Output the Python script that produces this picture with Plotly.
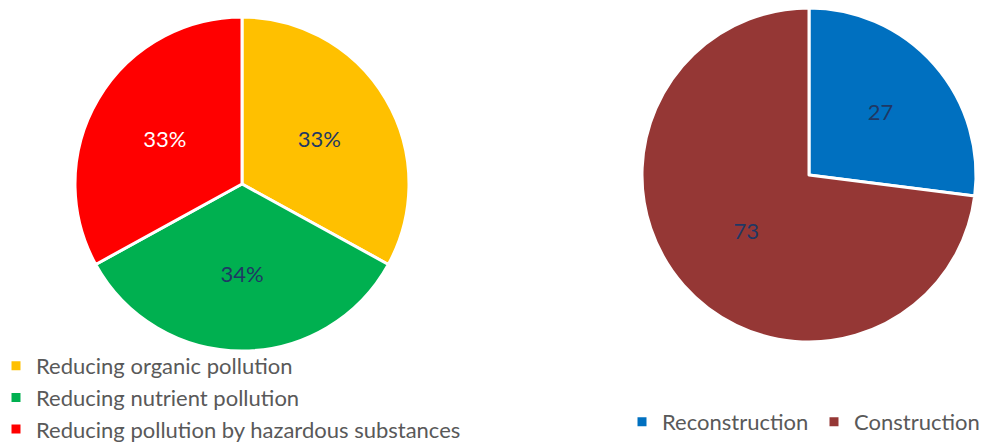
import plotly.graph_objects as go

# Data
left_labels = ["Reducing organic pollution", "Reducing nutrient pollution", "Reducing pollution by hazardous substances"]
left_values = [33, 34, 33]
left_colors = ["#FFC000", "#00B050", "#FF0000"]
left_text_colors = ["#1F3864", "#1F3864", "#FFFFFF"]

right_labels = ["Reconstruction", "Construction"]
right_values = [27, 73]
right_colors = ["#0070C0", "#953735"]
right_text_colors = ["#1F3864", "#1F3864"]

W, H = 985, 445
FONT = "Lato"

fig = go.Figure()
fig.add_trace(go.Pie(
    labels=left_labels, values=left_values, sort=False, direction="clockwise", rotation=0,
    marker=dict(colors=left_colors, line=dict(color="white", width=3)),
    textinfo="percent", texttemplate="%{percent:.0%}", textposition="inside",
    insidetextorientation="horizontal",
    textfont=dict(family=FONT, size=22, color=left_text_colors),
    domain=dict(x=[75 / W, 409 / W], y=[1 - 351 / H, 1 - 17 / H]),
    legend="legend", hoverinfo="label+percent",
))
fig.add_trace(go.Pie(
    labels=right_labels, values=right_values, sort=False, direction="clockwise", rotation=0,
    marker=dict(colors=right_colors, line=dict(color="white", width=3)),
    textinfo="value", textposition="inside",
    insidetextorientation="horizontal",
    textfont=dict(family=FONT, size=22, color=right_text_colors),
    domain=dict(x=[642 / W, 976 / W], y=[1 - 342 / H, 1 - 8 / H]),
    legend="legend2", hoverinfo="label+value",
))

fig.update_layout(
    width=W, height=H,
    margin=dict(l=0, r=0, t=0, b=0, autoexpand=False),
    paper_bgcolor="white", plot_bgcolor="white",
    font=dict(family=FONT, color="#595959"),
    legend=dict(x=-4 / W, y=1 - 345 / H, xanchor="left", yanchor="top",
                orientation="v", font=dict(size=22, color="#595959"),
                tracegroupgap=0, bgcolor="rgba(0,0,0,0)"),
    legend2=dict(x=622 / W, y=1 - 401 / H, xanchor="left", yanchor="top",
                 orientation="h", font=dict(size=22, color="#595959"),
                 entrywidth=147, entrywidthmode="pixels",
                 bgcolor="rgba(0,0,0,0)"),
)

fig.write_html("out.html")
